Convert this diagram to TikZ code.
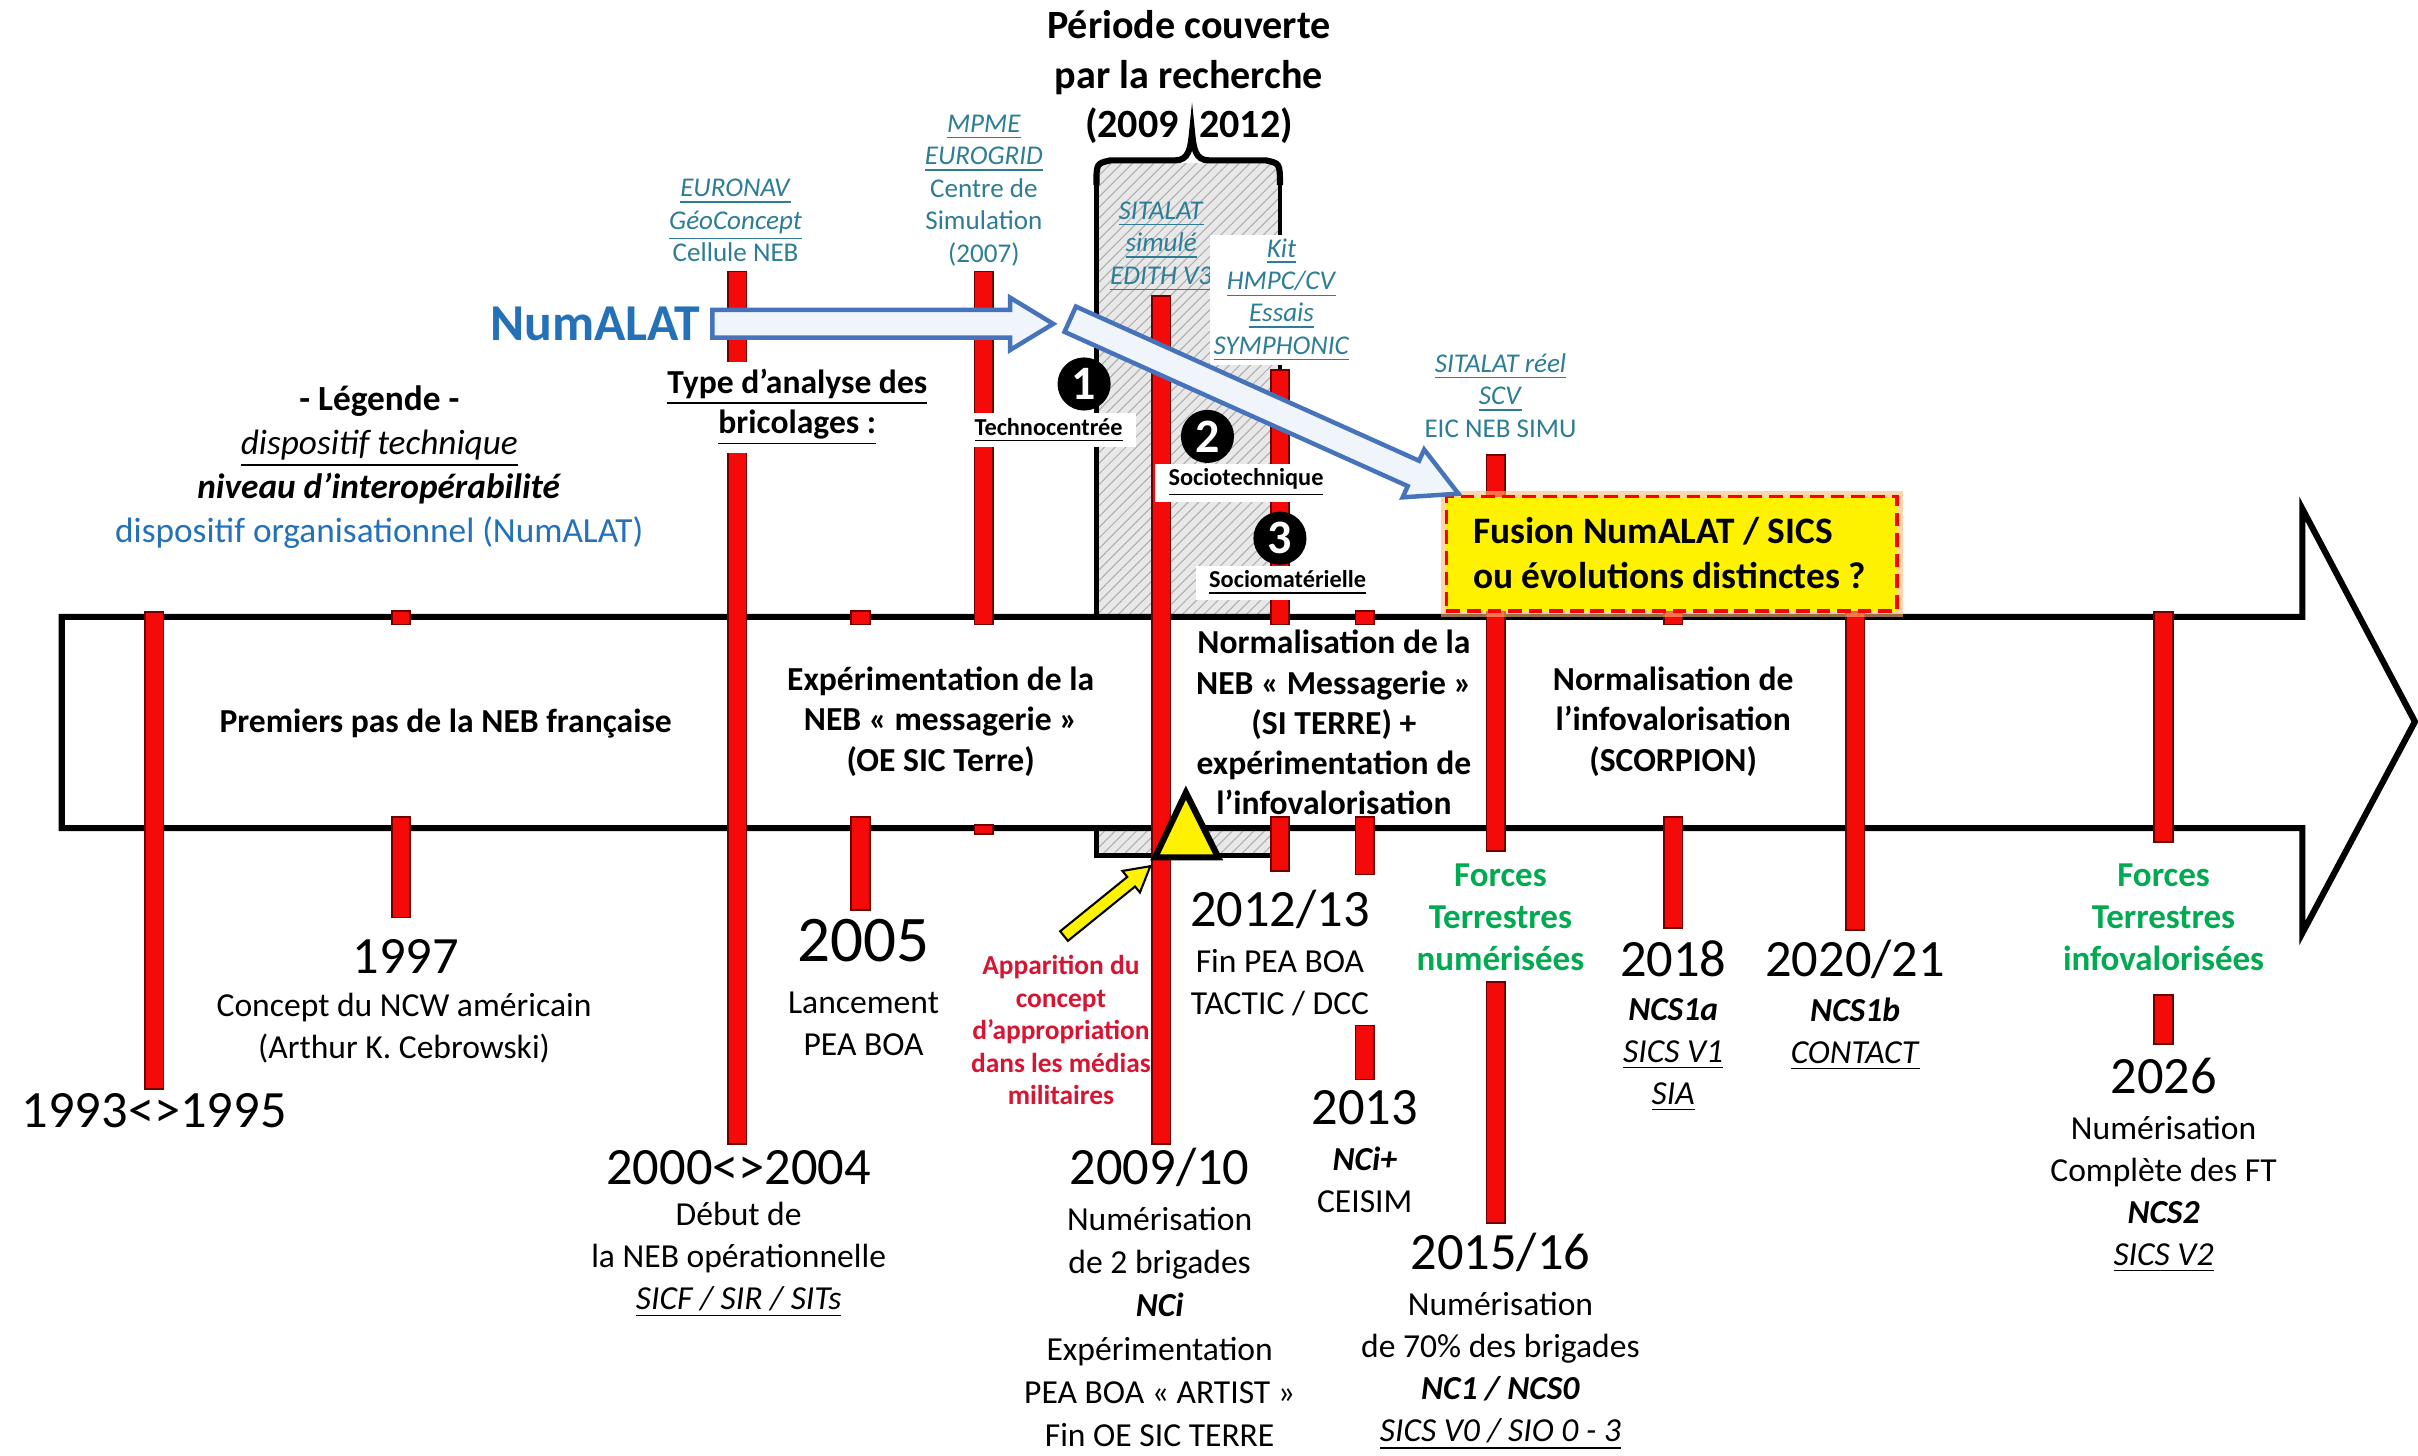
\documentclass[tikz,border=0pt]{standalone}
\usepackage{fontspec}
\setmainfont{Carlito}
\usetikzlibrary{patterns.meta}
\definecolor{barred}{RGB}{245,10,10}
\definecolor{bardark}{RGB}{110,0,0}
\definecolor{numblue}{RGB}{36,113,186}
\definecolor{tealT}{RGB}{45,125,150}
\definecolor{greenT}{RGB}{0,170,80}
\definecolor{redT}{RGB}{215,20,50}
\definecolor{arrowblue}{RGB}{70,115,185}
\definecolor{arrowfill}{RGB}{240,245,252}
\definecolor{hatchbg}{RGB}{232,232,232}
\newcommand\redbar[3]{\draw[bar] ({#1-6},#2) rectangle ({#1+6},#3);}
\begin{document}
\begin{tikzpicture}[x=0.45pt,y=-0.45pt,
  bar/.style={fill=barred,draw=bardark,line width=0.5pt},
  yr/.style={font=\fontsize{15.3}{18}\selectfont,inner sep=0pt},
  desc/.style={font=\fontsize{9.8}{12.3}\selectfont,align=center,inner sep=0pt},
  boxt/.style={font=\bfseries\fontsize{9.8}{11.7}\selectfont,align=center,inner sep=0pt},
  toplab/.style={font=\fontsize{7.9}{9.45}\selectfont,align=center,text=tealT,inner sep=1pt},
  typelab/.style={font=\bfseries\fontsize{7.1}{8.5}\selectfont,fill=white,inner xsep=4pt,inner ysep=1.5pt},
  numc/.style={circle,fill=black,minimum size=15.5pt,inner sep=0pt,text=white,font=\bfseries\fontsize{14}{14}\selectfont},
  greentxt/.style={font=\bfseries\fontsize{10.2}{12.2}\selectfont,text=greenT,align=center,inner sep=0pt},
  redtxt/.style={font=\bfseries\fontsize{8}{9.45}\selectfont,text=redT,align=center,inner sep=0pt},
  outl/.style={draw=black,line width=1.8pt,line join=miter},
  blockarrow/.style={draw=arrowblue,fill=arrowfill,line width=1.3pt,line join=miter},
]
\fill[white] (0,0) rectangle (1568,944);
\useasboundingbox (0,0) rectangle (1568,944);

% research period hatched box
\fill[hatchbg] (711,106) rectangle (830,555);
\fill[pattern={Lines[angle=45,distance=2.2pt,line width=0.3pt]},pattern color=gray!65] (711,106) rectangle (830,555);
\draw[line width=1.4pt] (711,118) -- (711,555) -- (830,555);
\draw[line width=1.4pt] (830,118) -- (830,400);
\draw[line width=1.8pt] (711,120) .. controls (711,106) .. (720,104) -- (762,104)
  .. controls (771,104) and (772,96) .. (773,86) .. controls (774,96) and (775,104) .. (784,104)
  -- (821,104) .. controls (830,106) .. (830,120);

% main timeline arrow
\draw[outl,fill=white] (40,400) -- (1493,400) -- (1493,330) -- (1566,468) -- (1493,605) -- (1493,537) -- (40,537) -- cycle;

% red bars
\redbar{100}{397}{706}
\redbar{260}{396}{405} \redbar{260}{530}{595}
\redbar{478}{176}{742}
\redbar{558}{396}{405} \redbar{558}{530}{590}
\redbar{638}{176}{405} \redbar{638}{535}{541}
\redbar{753}{192}{742}
\redbar{830}{240}{405} \redbar{830}{530}{565}
\redbar{885}{396}{405} \redbar{885}{530}{567} \redbar{885}{665}{700}
\redbar{970}{295}{552} \redbar{970}{637}{793}
\redbar{1085}{396}{405} \redbar{1085}{530}{602}
\redbar{1203}{397}{603}
\redbar{1403}{397}{546} \redbar{1403}{645}{677}

% title
\node[font=\bfseries\fontsize{11.7}{14.4}\selectfont,align=center,inner sep=0pt] (period) at (771,50) {Période couverte\\par la recherche\\(2009\hspace{0.5em}2012)};

% legend
\node[font=\fontsize{10.3}{12.9}\selectfont,align=center,inner sep=0pt] (legend) at (246,303)
 {\textbf{- Légende -}\\\underline{\textit{dispositif technique}}\\\textbf{\textit{niveau d’interopérabilité}}\\\textcolor{numblue}{dispositif organisationnel (NumALAT)}};

% top labels
\node[toplab] (l3) at (477,143) {\underline{\textit{EURONAV}}\\\underline{\textit{GéoConcept}}\\Cellule NEB};
\node[toplab] (l5) at (638,123.5) {\underline{\textit{MPME}}\\\underline{\textit{EUROGRID}}\\Centre de\\Simulation\\(2007)};
\node[toplab] (l6) at (753,160) {\underline{\textit{SITALAT}}\\\underline{\textit{simulé}}\\\underline{\textit{EDITH V3}}};
\node[toplab,fill=white] (l7) at (831,194.5) {\underline{\textit{Kit}}\\\underline{\textit{HMPC/CV}}\\\underline{\textit{Essais}}\\\underline{\textit{SYMPHONIC}}};
\node[toplab] (l9) at (973,256.5) {\underline{\textit{SITALAT réel}}\\\underline{\textit{SCV}}\\EIC NEB SIMU};

% type of analysis
\node[boxt,fill=white,inner sep=2pt] (type) at (517,264) {\underline{Type d’analyse des}\\\underline{bricolages :}};
\node[typelab] (techno) at (680,279) {\underline{Technocentrée}};
\node[typelab] (socio) at (808,313) {\underline{Sociotechnique}};
\node[typelab] (sociom) at (835,378) {\underline{Sociomatérielle}};

% texts in timeline
\node[boxt] (p1) at (289,469) {Premiers pas de la NEB française};
\node[boxt] (p2) at (610,468) {Expérimentation de la\\NEB «~messagerie~»\\(OE SIC Terre)};
\node[boxt] (p3) at (865,468.5) {Normalisation de la\\NEB «~Messagerie~»\\(SI TERRE) +\\expérimentation de\\l’infovalorisation};
\node[boxt] (p4) at (1085,468) {Normalisation de\\l’infovalorisation\\(SCORPION)};

% years and descriptions
\node[yr] (y93) at (100,720) {1993<>1995};
\node[yr] (y97) at (263,620) {1997};
\node[desc] (d97) at (262,667) {Concept du NCW américain\\(Arthur K. Cebrowski)};
\node[yr] (y00) at (479,757) {2000<>2004};
\node[desc] (d00) at (479,817) {Début de\\la NEB opérationnelle\\\underline{\textit{SICF / SIR / SITs}}};
\node[font=\fontsize{19}{22}\selectfont,inner sep=0pt] (y05) at (560,610) {2005};
\node[desc] (d05) at (560,664) {Lancement\\PEA BOA};
\node[yr] (y09) at (752,757) {2009/10};
\node[desc,font=\fontsize{9.8}{12.6}\selectfont] (d09) at (752,860.5) {Numérisation\\de 2 brigades\\\textbf{\textit{NCi}}\\Expérimentation\\PEA BOA «~ARTIST~»\\Fin OE SIC TERRE};
\node[yr] (y12) at (830,590) {2012/13};
\node[desc] (d12) at (830,637) {Fin PEA BOA\\TACTIC / DCC};
\node[yr] (y13) at (885,718) {2013};
\node[desc] (d13) at (885,765) {\textbf{\textit{NCi+}}\\CEISIM};
\node[yr] (y15) at (973,812) {2015/16};
\node[desc] (d15) at (973,889) {Numérisation\\de 70\% des brigades\\\textbf{\textit{NC1 / NCS0}}\\\underline{\textit{SICS V0 / SIO 0 - 3}}};
\node[yr] (y18) at (1085,622) {2018};
\node[desc] (d18) at (1085,684) {\textbf{\textit{NCS1a}}\\\underline{\textit{SICS V1}}\\\underline{\textit{SIA}}};
\node[yr] (y20) at (1203,622) {2020/21};
\node[desc] (d20) at (1203,670.5) {\textbf{\textit{NCS1b}}\\\underline{\textit{CONTACT}}};
\node[yr] (y26) at (1403,698) {2026};
\node[desc] (d26) at (1403,774.5) {Numérisation\\Complète des FT\\\textbf{\textit{NCS2}}\\\underline{\textit{SICS V2}}};

\node[greentxt] (g1) at (973,595) {Forces\\Terrestres\\numérisées};
\node[greentxt] (g2) at (1403,595) {Forces\\Terrestres\\infovalorisées};
\node[redtxt] (appar) at (688,668) {Apparition du\\concept\\d’appropriation\\dans les médias\\militaires};

% NumALAT
\node[font=\bfseries\fontsize{15.1}{18}\selectfont,text=numblue,inner sep=0pt] (num) at (386,210) {NumALAT};
\draw[blockarrow] (462,201) -- (655,201) -- (655,193) -- (683,210) -- (655,227) -- (655,219) -- (462,219) -- cycle;

% fusion box
\draw[orange!55,line width=3.5pt,opacity=0.6] (938,322) rectangle (1230,396);
\node[draw=red,dash pattern=on 4pt off 2pt,line width=1.1pt,fill=yellow,minimum width=131.4pt,minimum height=33.3pt,inner sep=0pt] (fus) at (1084,359) {};
\node[font=\bfseries\fontsize{10.9}{13}\selectfont,align=left,anchor=west,inner sep=0pt] (fust) at (955,358.5) {Fusion NumALAT / SICS\\ou évolutions distinctes ?};

\begin{scope}[shift={(694,207)},rotate=-24.2]
\draw[blockarrow] (0,-9) -- (244,-9) -- (244,-17) -- (276,0) -- (244,17) -- (244,9) -- (0,9) -- cycle;
\end{scope}

% circled numbers
\node[numc] (c1) at (703,249) {1};
\node[numc] (c2) at (783,283) {2};
\node[numc] (c3) at (830,349) {3};

% triangle and yellow arrow
\draw[fill=yellow,draw=black,line width=1.8pt,line join=miter] (749,556) -- (790,556) -- (769,514) -- cycle;
\begin{scope}[shift={(690,607)},rotate=39]
\draw[fill=yellow,draw=black,line width=0.6pt] (0,-4) -- (56,-4) -- (56,-9) -- (72,0) -- (56,9) -- (56,4) -- (0,4) -- cycle;
\end{scope}
\end{tikzpicture}
\end{document}
